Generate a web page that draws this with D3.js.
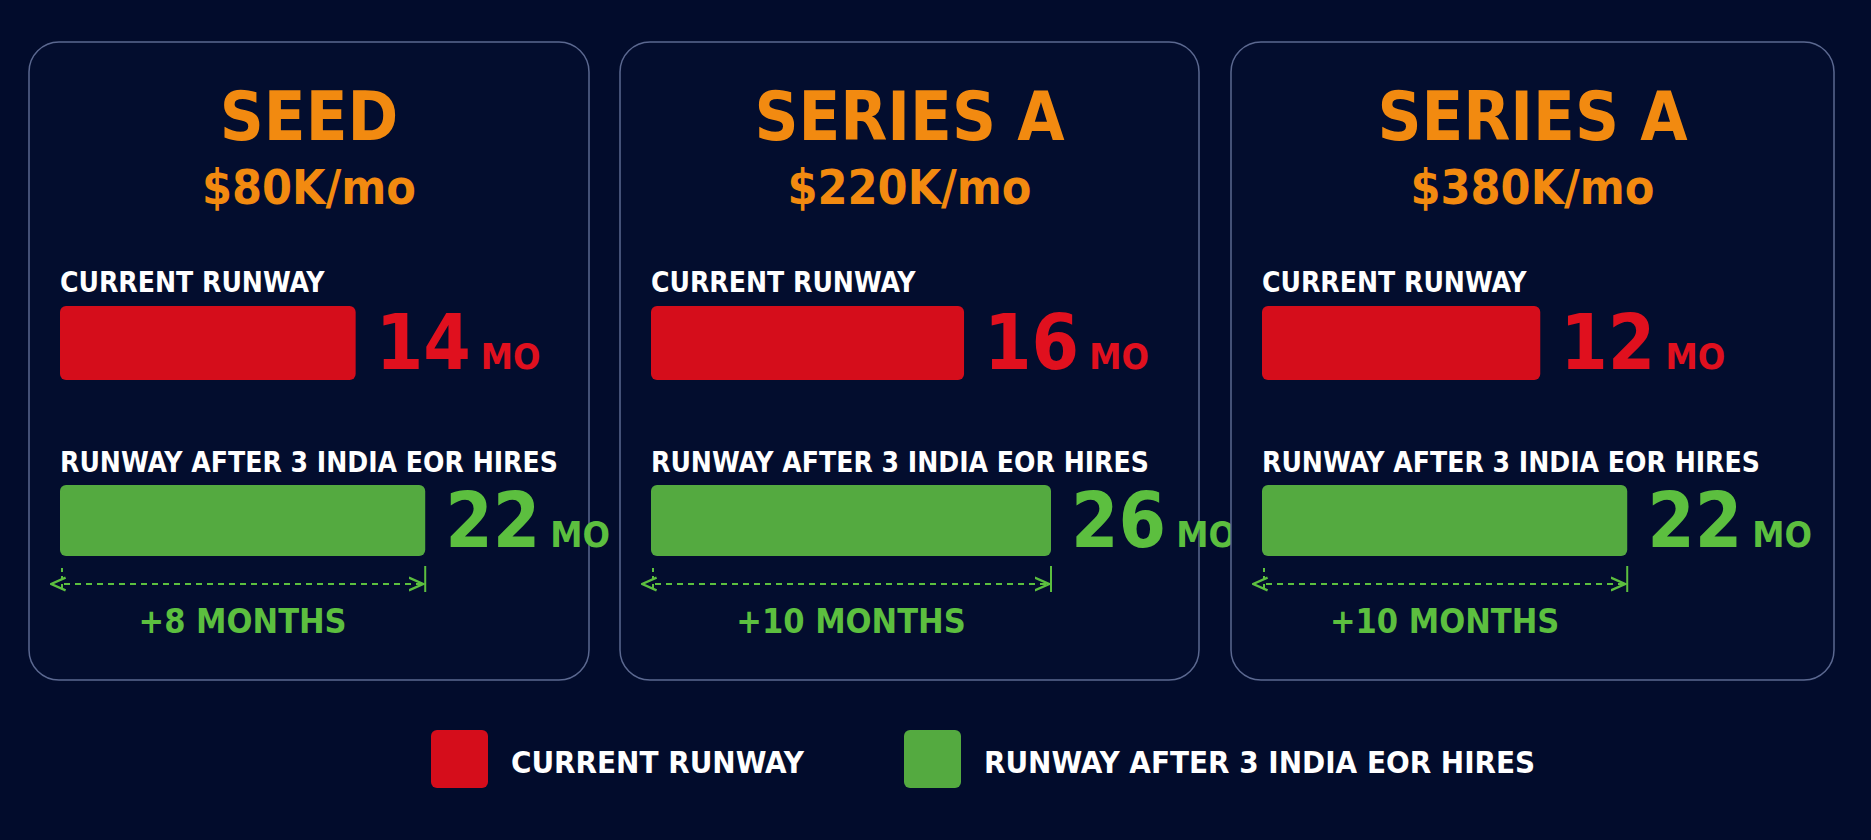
<!DOCTYPE html>
<html><head><meta charset="utf-8">
<script src="https://cdn.jsdelivr.net/npm/d3@7"></script>
<style>
body{margin:0;background:#020c2c;overflow:hidden}
text{font-family:"Liberation Sans Narrow","DejaVu Sans Condensed",sans-serif;font-weight:bold}
</style></head><body>
<svg id="chart" width="1871" height="840"></svg>
<script>
const stages = ["SEED", "SERIES A", "SERIES A"];
const burn = ["$80K/mo", "$220K/mo", "$380K/mo"];
const current = [14, 16, 12];
const after = [22, 26, 22];
const seriesNames = ["CURRENT RUNWAY", "RUNWAY AFTER 3 INDIA EOR HIRES"];
const colors = ["#d50d1b", "#54aa40"];

const svg = d3.select("#chart");
const panelX = [[29, 589], [620, 1199], [1231, 1834]];
const x = d3.scaleLinear().domain([-20, 26]).range([0, 400]);

const defs = svg.append("defs");
["l", "r"].forEach(k => {
  defs.append("marker").attr("id", "arr" + k).attr("viewBox", "0 0 10 10")
    .attr("refX", k === "r" ? 9 : 1).attr("refY", 5).attr("markerWidth", 8).attr("markerHeight", 8)
    .attr("orient", "auto-start-reverse")
    .append("path").attr("d", "M0,1 L9,5 L0,9").attr("fill", "none").attr("stroke", "#5cbf3f").attr("stroke-width", 1.5);
});

stages.forEach((s, i) => {
  const [x0, x1] = panelX[i];
  const g = svg.append("g");
  g.append("rect").attr("x", x0).attr("y", 42).attr("width", x1 - x0).attr("height", 638)
    .attr("rx", 30).attr("fill", "#030d2e").attr("stroke", "#5b6890").attr("stroke-width", 1.5);
  const cx = (x0 + x1) / 2, bx = x0 + 31;
  g.append("text").attr("x", cx).attr("y", 140).attr("text-anchor", "middle")
    .attr("fill", "#f28a10").attr("font-size", 68).text(s);
  g.append("text").attr("x", cx).attr("y", 204).attr("text-anchor", "middle")
    .attr("fill", "#f28a10").attr("font-size", 48).text(burn[i]);

  const rows = [{v: current[i], ly: 292, by: 306, h: 74}, {v: after[i], ly: 472, by: 485, h: 71}];
  rows.forEach((r, k) => {
    g.append("text").attr("x", bx).attr("y", r.ly).attr("fill", "#fff").attr("font-size", 28).text(seriesNames[k]);
    g.append("rect").attr("x", bx).attr("y", r.by).attr("width", x(r.v)).attr("height", r.h)
      .attr("rx", 6).attr("fill", colors[k]);
    const t = g.append("text").attr("x", bx + x(r.v) + 20).attr("y", r.by + r.h / 2 + 26)
      .attr("fill", k ? "#5cbf3f" : "#e0101e").attr("font-size", 76).text(r.v);
    t.append("tspan").attr("dx", 10).attr("font-size", 36).text("MO");
  });

  const ex = bx + x(after[i]);
  g.append("line").attr("x1", bx + 2).attr("x2", bx + 2).attr("y1", 568).attr("y2", 590)
    .attr("stroke", "#5cbf3f").attr("stroke-width", 2).attr("stroke-dasharray", "4,4");
  g.append("line").attr("x1", ex).attr("x2", ex).attr("y1", 566).attr("y2", 592)
    .attr("stroke", "#5cbf3f").attr("stroke-width", 2);
  g.append("line").attr("x1", bx + 4).attr("x2", ex - 2).attr("y1", 584).attr("y2", 584)
    .attr("stroke", "#5cbf3f").attr("stroke-width", 2).attr("stroke-dasharray", "6,5")
    .attr("marker-start", "url(#arrl)").attr("marker-end", "url(#arrr)");
  g.append("text").attr("x", (bx + ex) / 2).attr("y", 633).attr("text-anchor", "middle")
    .attr("fill", "#5cbf3f").attr("font-size", 34).text("+" + (after[i] - current[i]) + " MONTHS");
});

const legX = [431, 904];
seriesNames.forEach((n, k) => {
  svg.append("rect").attr("x", legX[k]).attr("y", 730).attr("width", 57).attr("height", 58)
    .attr("rx", 6).attr("fill", colors[k]);
  svg.append("text").attr("x", legX[k] + 80).attr("y", 773).attr("fill", "#fff")
    .attr("font-size", 31).attr("font-weight", "normal").text(n);
});
</script></body></html>
